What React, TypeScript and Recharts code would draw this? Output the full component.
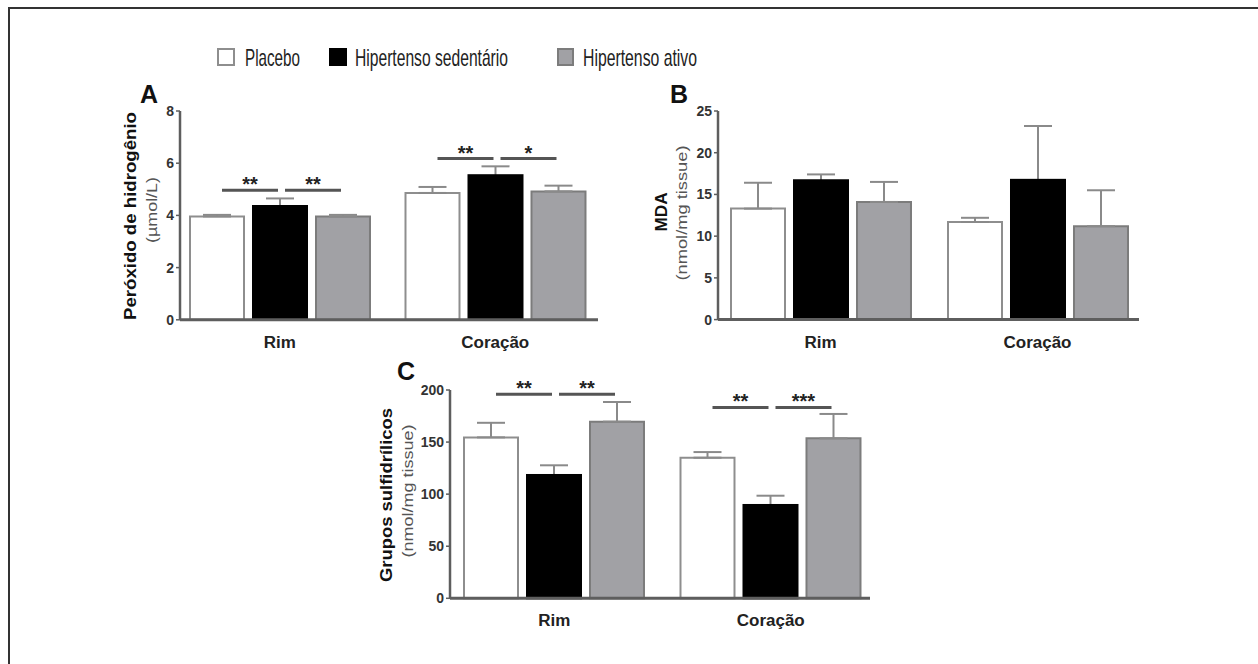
import React from 'react';
import { BarChart, Bar, XAxis, YAxis, ErrorBar } from 'recharts';

const categories = ['Rim', 'Coração'];
const seriesNames = ['Placebo', 'Hipertenso sedentário', 'Hipertenso ativo'];

// A - peróxido de hidrogênio (µmol/L)
const placeboA = [3.96, 4.86];
const sedentarioA = [4.36, 5.54];
const ativoA = [3.96, 4.92];
const placeboAErr = [0.06, 0.23];
const sedentarioAErr = [0.29, 0.34];
const ativoAErr = [0.06, 0.22];
const sigLevelA = [4.96, 6.18];
const sigLabelsA = [['**', '**'], ['**', '*']];
const ticksA = [0, 2, 4, 6, 8];

// B - MDA (nmol/mg tissue)
const placeboB = [13.3, 11.7];
const sedentarioB = [16.7, 16.75];
const ativoB = [14.1, 11.2];
const placeboBErr = [3.1, 0.5];
const sedentarioBErr = [0.7, 6.45];
const ativoBErr = [2.4, 4.3];
const ticksB = [0, 5, 10, 15, 20, 25];

// C - grupos sulfidrílicos (nmol/mg tissue)
const placeboC = [154.5, 135];
const sedentarioC = [118.4, 89.6];
const ativoC = [169.6, 153.6];
const placeboCErr = [14, 5.4];
const sedentarioCErr = [9.3, 8.9];
const ativoCErr = [18.9, 23.4];
const sigLevelC = [195.9, 183.3];
const sigLabelsC = [['**', '**'], ['**', '***']];
const ticksC = [0, 50, 100, 150, 200];

const FONT = '"Liberation Sans", Arial, Helvetica, sans-serif';
const AXIS = '#5e5e5e';
const ERR = '#8a8a8a';
const GRAY = '#a1a1a5';
const BAR_SIZE = 54;
const BAR_GAP = 9;

function buildData(p: number[], s: number[], a: number[], pe: number[], se: number[], ae: number[], sig?: number[], sigLabels?: string[][]) {
  return categories.map((name, i) => ({
    name,
    placebo: p[i],
    sed: s[i],
    ativo: a[i],
    placeboErr: [0, pe[i]],
    sedErr: se[i],
    ativoErr: [0, ae[i]],
    sig: sig ? sig[i] : null,
    sigLabels: sigLabels ? sigLabels[i] : null,
  }));
}

const dataA = buildData(placeboA, sedentarioA, ativoA, placeboAErr, sedentarioAErr, ativoAErr, sigLevelA, sigLabelsA);
const dataB = buildData(placeboB, sedentarioB, ativoB, placeboBErr, sedentarioBErr, ativoBErr);
const dataC = buildData(placeboC, sedentarioC, ativoC, placeboCErr, sedentarioCErr, ativoCErr, sigLevelC, sigLabelsC);

// black bar, its upward error bar and the significance brackets,
// all scaled from the bar's own geometry
const sedShape = (props: any) => {
  const { x, y, width, height, payload } = props;
  const base = y + height;
  const unit = height / payload.sed;
  const cx = x + width / 2;
  const step = width + BAR_GAP;
  const ey = y - payload.sedErr * unit;
  let sig = null;
  if (payload.sig != null) {
    const sy = base - payload.sig * unit;
    const segs = [[cx - step + 5, cx - 2], [cx + 5, cx + step - 2]];
    sig = segs.map(([a, b], i) => (
      <g key={i}>
        <line x1={a} x2={b} y1={sy} y2={sy} stroke="#555" strokeWidth={3} />
        <text x={(a + b) / 2} y={sy + 1} textAnchor="middle" fontSize={20} fontWeight="bold" fill="#222" fontFamily={FONT}>
          {payload.sigLabels[i]}
        </text>
      </g>
    ));
  }
  return (
    <g>
      <line x1={cx} x2={cx} y1={y} y2={ey} stroke={ERR} strokeWidth={2} />
      <line x1={cx - 14} x2={cx + 14} y1={ey} y2={ey} stroke={ERR} strokeWidth={2} />
      <rect x={x} y={y} width={width} height={height} fill="#000" stroke="#000" strokeWidth={2} />
      {sig}
    </g>
  );
};

interface PanelProps {
  box: [number, number, number, number];
  data: any[];
  ticks: number[];
  pad: [number, number];
}

function Panel({ box, data, ticks, pad }: PanelProps) {
  const [x1, x2, y1, y2] = box;
  return (
    <div style={{ position: 'absolute', left: x1 - 80, top: y1 - 20 }}>
      <BarChart
        width={x2 - x1 + 100}
        height={y2 - y1 + 60}
        data={data}
        margin={{ top: 20, right: 20, bottom: 10, left: 20 }}
        barSize={BAR_SIZE}
        barGap={BAR_GAP}
      >
        <XAxis
          dataKey="name"
          height={30}
          axisLine={{ stroke: AXIS, strokeWidth: 3 }}
          tickLine={false}
          tickSize={0}
          tickMargin={16}
          padding={{ left: pad[0], right: pad[1] }}
          tick={{ fill: '#222', fontSize: 17, fontWeight: 'bold', fontFamily: FONT }}
        />
        <YAxis
          width={60}
          domain={[ticks[0], ticks[ticks.length - 1]]}
          ticks={ticks}
          interval={0}
          axisLine={{ stroke: AXIS, strokeWidth: 2.5 }}
          tickLine={{ stroke: AXIS, strokeWidth: 1.5 }}
          tickSize={4}
          tickMargin={2}
          tick={{ fill: '#333', fontSize: 14, fontWeight: 'bold', fontFamily: FONT }}
        />
        <Bar dataKey="placebo" fill="#fff" stroke="#8e8e8e" strokeWidth={2} isAnimationActive={false}>
          <ErrorBar dataKey="placeboErr" width={14} stroke={ERR} strokeWidth={2} direction="y" />
        </Bar>
        <Bar dataKey="sed" fill="#000" shape={sedShape} isAnimationActive={false} />
        <Bar dataKey="ativo" fill={GRAY} stroke="#7c7c7c" strokeWidth={2} isAnimationActive={false}>
          <ErrorBar dataKey="ativoErr" width={14} stroke={ERR} strokeWidth={2} direction="y" />
        </Bar>
      </BarChart>
    </div>
  );
}

function VText({ x, y, len, size, bold, color, children }: any) {
  return (
    <text
      x={x}
      y={y}
      transform={`rotate(-90 ${x} ${y})`}
      textAnchor="middle"
      dominantBaseline="central"
      fontSize={size}
      fontWeight={bold ? 'bold' : 'normal'}
      fill={color}
      textLength={len}
      lengthAdjust="spacingAndGlyphs"
    >
      {children}
    </text>
  );
}

export default function App() {
  return (
    <div style={{ position: 'absolute', left: 0, top: 0, width: 1258, height: 664, overflow: 'hidden', background: '#fff', fontFamily: FONT }}>
      <div style={{ position: 'absolute', left: 8, top: 7, width: 1260, height: 670, borderTop: '2px solid #333', borderLeft: '2px solid #333' }} />

      <Panel box={[180, 598, 110.5, 319.3]} data={dataA} ticks={ticksA} pad={[-8, -5]} />
      <Panel box={[718, 1139, 110.7, 319.3]} data={dataB} ticks={ticksB} pad={[-6, -7]} />
      <Panel box={[450, 870, 390, 598.3]} data={dataC} ticks={ticksC} pad={[-4, -9]} />

      <svg width={1258} height={664} style={{ position: 'absolute', left: 0, top: 0, pointerEvents: 'none' }} fontFamily={FONT}>
        {/* legend */}
        <rect x={218} y={49} width={16} height={16} fill="#fff" stroke="#8e8e8e" strokeWidth={2} />
        <text x={245} y={66} fontSize={24} fill="#222" textLength={55} lengthAdjust="spacingAndGlyphs">{seriesNames[0]}</text>
        <rect x={330} y={49} width={16} height={16} fill="#000" stroke="#000" strokeWidth={2} />
        <text x={355} y={66} fontSize={24} fill="#222" textLength={153} lengthAdjust="spacingAndGlyphs">{seriesNames[1]}</text>
        <rect x={558} y={49} width={15} height={16} fill={GRAY} stroke="#7c7c7c" strokeWidth={2} />
        <text x={583} y={66} fontSize={24} fill="#222" textLength={114} lengthAdjust="spacingAndGlyphs">{seriesNames[2]}</text>

        {/* panel letters */}
        <text x={140} y={103} fontSize={25} fontWeight="bold" fill="#111">A</text>
        <text x={670} y={103} fontSize={25} fontWeight="bold" fill="#111">B</text>
        <text x={397} y={380} fontSize={25} fontWeight="bold" fill="#111">C</text>

        {/* axis titles */}
        <VText x={130} y={216} len={208} size={17} bold color="#111">Peróxido de hidrogênio</VText>
        <VText x={152} y={210} len={66} size={14} color="#555">(µmol/L)</VText>
        <VText x={661} y={212} len={39} size={17} bold color="#111">MDA</VText>
        <VText x={682} y={213} len={135} size={14} color="#555">(nmol/mg tissue)</VText>
        <VText x={386} y={495} len={174} size={17} bold color="#111">Grupos sulfidrílicos</VText>
        <VText x={408} y={491} len={133} size={14} color="#555">(nmol/mg tissue)</VText>
      </svg>
    </div>
  );
}
